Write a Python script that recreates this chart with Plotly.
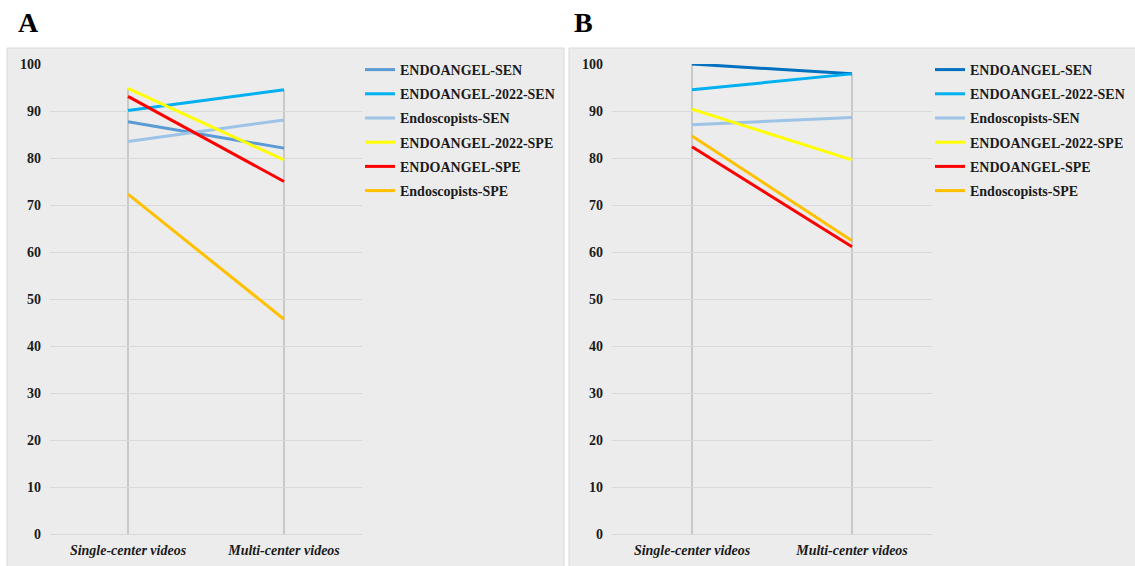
import plotly.graph_objects as go

categories = ["Single-center videos", "Multi-center videos"]
series_names = ["ENDOANGEL-SEN", "ENDOANGEL-2022-SEN", "Endoscopists-SEN",
                "ENDOANGEL-2022-SPE", "ENDOANGEL-SPE", "Endoscopists-SPE"]

# Panel A values [single-center, multi-center]
a_endoangel_sen = [87.7, 82.1]
a_endoangel2022_sen = [90.1, 94.5]
a_endoscopists_sen = [83.5, 88.1]
a_endoangel2022_spe = [94.8, 79.6]
a_endoangel_spe = [93.1, 75.0]
a_endoscopists_spe = [72.3, 45.7]

# Panel B values
b_endoangel_sen = [100.0, 97.9]
b_endoangel2022_sen = [94.5, 97.9]
b_endoscopists_sen = [87.1, 88.6]
b_endoangel2022_spe = [90.4, 79.6]
b_endoangel_spe = [82.4, 61.1]
b_endoscopists_spe = [84.7, 62.4]

y_ticks = [0, 10, 20, 30, 40, 50, 60, 70, 80, 90, 100]

colors_a = ["#5b9bd5", "#00b0f0", "#9dc3e6", "#ffff00", "#ff0000", "#ffc000"]
colors_b = ["#0070c0", "#00b0f0", "#9dc3e6", "#ffff00", "#ff0000", "#ffc000"]

panel_a = [a_endoangel_sen, a_endoangel2022_sen, a_endoscopists_sen,
           a_endoangel2022_spe, a_endoangel_spe, a_endoscopists_spe]
panel_b = [b_endoangel_sen, b_endoangel2022_sen, b_endoscopists_sen,
           b_endoangel2022_spe, b_endoangel_spe, b_endoscopists_spe]

W, H = 1135, 566
SERIF = "Liberation Serif, Times New Roman, serif"

fig = go.Figure()

for i, (name, vals) in enumerate(zip(series_names, panel_a)):
    fig.add_trace(go.Scatter(x=categories, y=vals, mode="lines", name=name,
                             line=dict(color=colors_a[i], width=3),
                             xaxis="x", yaxis="y", legend="legend",
                             legendgroup="a%d" % i, cliponaxis=False,
                             hoverinfo="skip"))
for i, (name, vals) in enumerate(zip(series_names, panel_b)):
    fig.add_trace(go.Scatter(x=categories, y=vals, mode="lines", name=name,
                             line=dict(color=colors_b[i], width=3),
                             xaxis="x2", yaxis="y2", legend="legend2",
                             legendgroup="b%d" % i, cliponaxis=False,
                             hoverinfo="skip"))

shapes = [
    dict(type="rect", xref="paper", yref="paper", layer="below",
         x0=7 / W, x1=564 / W, y0=-0.01, y1=1 - 48 / H,
         fillcolor="#ececec", line=dict(color="#d9d9d9", width=1)),
    dict(type="rect", xref="paper", yref="paper", layer="below",
         x0=569 / W, x1=1.01, y0=-0.01, y1=1 - 48 / H,
         fillcolor="#ececec", line=dict(color="#d9d9d9", width=1)),
]
# drop lines from the highest value down to the axis at each category
for xr, yr, panel in (("x", "y", panel_a), ("x2", "y2", panel_b)):
    for j, cat in enumerate(categories):
        top = max(v[j] for v in panel)
        shapes.append(dict(type="line", xref=xr, yref=yr, layer="below",
                           x0=cat, x1=cat, y0=0, y1=top,
                           line=dict(color="#a6a6a6", width=1)))

y0 = 32 / H
y1 = 1 - 64 / H

axis_common = dict(showgrid=False, zeroline=False, showline=False, ticks="",
                   type="category", range=[-0.5, 1.5], automargin=False,
                   ticklabelstandoff=6,
                   tickfont=dict(family=SERIF, size=14, color="#1a1a1a",
                                 style="italic", weight="bold"))
yaxis_common = dict(range=[0, 100], tickvals=y_ticks, showgrid=True,
                    gridcolor="#d9d9d9", gridwidth=1, zeroline=True,
                    zerolinecolor="#d9d9d9", zerolinewidth=1, showline=False,
                    ticks="", ticklabelstandoff=8, automargin=False,
                    tickfont=dict(family=SERIF, size=14, color="#1a1a1a",
                                  weight="bold"))

legend_common = dict(font=dict(family=SERIF, size=14, color="#1a1a1a",
                               weight="bold"),
                     bgcolor="rgba(0,0,0,0)", tracegroupgap=3,
                     xanchor="left", yanchor="top", itemclick=False)

fig.update_layout(
    width=W, height=H,
    margin=dict(l=0, r=0, t=0, b=0, autoexpand=False),
    paper_bgcolor="white",
    plot_bgcolor="rgba(0,0,0,0)",
    showlegend=True,
    xaxis=dict(domain=[50 / W, 362 / W], anchor="y", **axis_common),
    yaxis=dict(domain=[y0, y1], anchor="x", **yaxis_common),
    xaxis2=dict(domain=[612 / W, 932 / W], anchor="y2", **axis_common),
    yaxis2=dict(domain=[y0, y1], anchor="x2", **yaxis_common),
    legend=dict(x=360 / W, y=1 - 54 / H, **legend_common),
    legend2=dict(x=930 / W, y=1 - 54 / H, **legend_common),
    shapes=shapes,
    annotations=[
        dict(text="A", xref="paper", yref="paper", x=28 / W, y=1 - 22 / H,
             xanchor="center", yanchor="middle", showarrow=False,
             font=dict(family=SERIF, size=28, color="black", weight="bold")),
        dict(text="B", xref="paper", yref="paper", x=583 / W, y=1 - 22 / H,
             xanchor="center", yanchor="middle", showarrow=False,
             font=dict(family=SERIF, size=28, color="black", weight="bold")),
    ],
)

fig.write_html("out.html",
               config={"displayModeBar": False},
               post_script="document.body.style.margin='0';"
                           "document.body.style.overflow='hidden';")
